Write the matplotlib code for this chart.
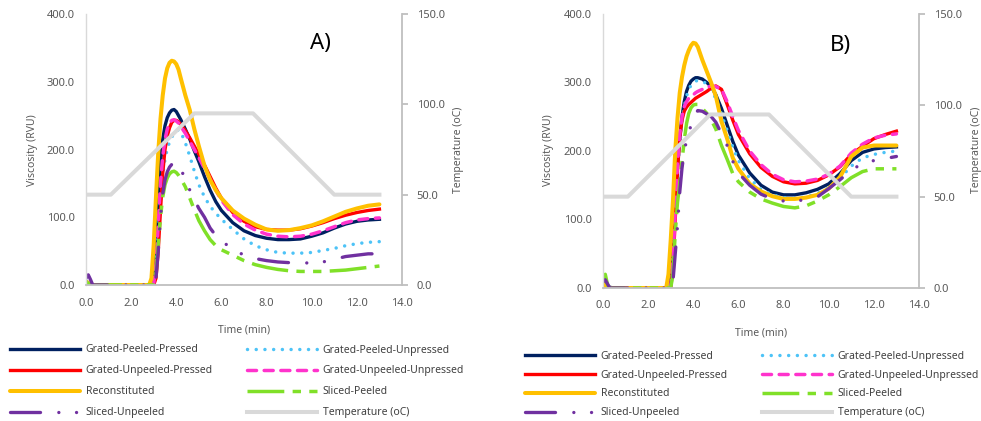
import matplotlib
matplotlib.use("Agg")
import matplotlib.pyplot as plt

plt.rcParams['font.family'] = ['Noto Sans', 'DejaVu Sans']

# ---------------- data ----------------
time_min = [0, 0.1, 0.2, 0.3, 0.5, 1.0, 1.5, 2.0, 2.5, 2.8, 2.9, 3.0, 3.1, 3.2, 3.3,
            3.4, 3.5, 3.6, 3.7, 3.8, 3.9, 4.0, 4.1, 4.2, 4.4, 4.6, 4.8, 5.0, 5.25, 5.5,
            5.75, 6.0, 6.5, 7.0, 7.5, 8.0, 8.5, 9.0, 9.5, 10.0, 10.5, 11.0, 11.5, 12.0, 12.5,
            13.0]

# Chart A
a_gpp = [6, 3, 1, 0, 0, 0, 0, 0, 0, 0, 0, 5, 50, 120, 180, 215, 235, 247, 254, 258,
         259, 256, 250, 244, 230, 215, 198, 182, 160, 140, 123, 110, 92, 80, 73, 69, 67, 67, 68, 72,
         77, 84, 90, 94, 96, 97]
a_gpu = [4, 2, 1, 0, 0, 0, 0, 0, 0, 0, 0, 2, 25, 75, 125, 162, 186, 201, 211, 218,
         224, 228, 229, 226, 210, 190, 168, 148, 130, 116, 106, 97, 82, 68, 58, 52, 48, 47, 47, 48,
         51, 54, 58, 61, 63, 64]
a_gup = [3, 1, 0, 0, 0, 0, 0, 0, 0, 0, 0, 0, 10, 50, 110, 165, 200, 220, 232, 240,
         243, 243, 241, 237, 228, 217, 205, 193, 177, 160, 143, 128, 107, 94, 86, 82, 81, 81, 83, 87,
         92, 98, 103, 107, 110, 112]
a_guu = [5, 2, 1, 0, 0, 0, 0, 0, 0, 0, 0, 2, 30, 90, 150, 190, 215, 230, 239, 243,
         244, 242, 239, 234, 224, 212, 200, 188, 172, 156, 140, 125, 104, 90, 81, 75, 72, 71, 72, 75,
         80, 86, 92, 96, 98, 99]
a_rec = [5, 3, 1, 0, 0, 0, 0, 0, 0, 0, 10, 60, 130, 195, 245, 280, 305, 320, 328, 331,
         330, 326, 318, 305, 280, 258, 230, 205, 176, 155, 140, 128, 110, 98, 89, 82, 80, 81, 84, 88,
         94, 101, 108, 113, 117, 119]
a_sp = [5, 2, 1, 0, 0, 0, 0, 0, 0, 0, 0, 0, 15, 60, 100, 130, 148, 158, 164, 167,
        168, 166, 162, 157, 145, 128, 111, 95, 80, 67, 58, 52, 44, 36, 30, 26, 23, 21, 20, 20,
        20, 21, 22, 24, 26, 28]
a_su = [10, 15, 8, 0, 0, 0, 0, 0, 0, 0, 0, 0, 10, 50, 100, 135, 155, 167, 174, 178,
        180, 181, 178, 172, 155, 140, 126, 113, 100, 84, 73, 65, 53, 44, 39, 36, 34, 33, 32, 33,
        34, 38, 42, 44, 46, 46]
a_temp_time = [0, 1.1, 4.8, 7.4, 11.0, 13.0]
a_temp = [50, 50, 95, 95, 50, 50]

# Chart B
b_gpp = [8, 4, 2, 1, 0, 0, 0, 0, 0, 0, 0, 10, 60, 120, 180, 216, 250, 272, 287, 296,
         302, 305, 307, 307, 305, 300, 294, 282, 262, 238, 214, 194, 168, 150, 140, 136, 136, 139, 144, 152,
         167, 186, 198, 203, 205, 206]
b_gpu = [6, 3, 1, 0, 0, 0, 0, 0, 0, 0, 0, 8, 50, 110, 170, 208, 242, 265, 280, 290,
         296, 300, 302, 303, 302, 298, 290, 276, 254, 230, 206, 186, 160, 144, 136, 132, 131, 133, 138, 146,
         160, 178, 190, 195, 198, 200]
b_gup = [5, 2, 1, 0, 0, 0, 0, 0, 0, 0, 0, 0, 30, 100, 170, 220, 245, 258, 264, 268,
         271, 274, 277, 279, 283, 287, 292, 295, 290, 268, 245, 224, 196, 176, 163, 155, 152, 153, 157, 165,
         177, 195, 207, 218, 224, 229]
b_guu = [6, 3, 1, 0, 0, 0, 0, 0, 0, 0, 0, 2, 40, 110, 180, 225, 250, 265, 272, 277,
         280, 282, 285, 287, 290, 293, 295, 294, 290, 272, 250, 230, 200, 180, 166, 158, 155, 156, 159, 166,
         178, 197, 210, 219, 223, 225]
b_rec = [6, 3, 1, 0, 0, 0, 0, 0, 0, 0, 20, 70, 128, 200, 248, 285, 308, 325, 338, 347,
         354, 358, 357, 352, 333, 316, 299, 280, 243, 218, 190, 174, 152, 141, 134, 130, 130, 132, 136, 145,
         162, 192, 205, 208, 208, 208]
b_sp = [10, 20, 5, 0, 0, 0, 0, 0, 0, 0, 0, 0, 20, 80, 125, 152, 185, 216, 240, 255,
        263, 267, 268, 268, 262, 255, 245, 232, 208, 188, 167, 155, 140, 130, 124, 119, 117, 120, 127, 136,
        148, 161, 170, 174, 174, 174]
b_su = [10, 12, 6, 0, 0, 0, 0, 0, 0, 0, 0, 0, 10, 50, 90, 140, 175, 200, 215, 226,
        238, 248, 255, 259, 258, 254, 250, 242, 225, 208, 185, 168, 150, 137, 130, 127, 127, 129, 133, 145,
        158, 172, 182, 186, 189, 192]
b_temp_time = [0, 1.1, 4.75, 7.35, 11.0, 13.0]
b_temp = [50, 50, 95, 95, 50, 50]

labels = ["Grated-Peeled-Pressed", "Grated-Peeled-Unpressed", "Grated-Unpeeled-Pressed",
          "Grated-Unpeeled-Unpressed", "Reconstituted", "Sliced-Peeled", "Sliced-Unpeeled"]
temp_label = "Temperature (oC)"
x_ticks = [0, 2, 4, 6, 8, 10, 12, 14]
visc_ticks = [0, 100, 200, 300, 400]
temp_ticks = [0, 50, 100, 150]

# ---------------- styles ----------------
styles = [
    dict(color="#002060", lw=2.4, ls="-"),
    dict(color="#4DC3F7", lw=2.5, ls=(0, (0.01, 2.5)), dash_capstyle="round"),
    dict(color="#FF0000", lw=2.4, ls="-"),
    dict(color="#FF33CC", lw=2.5, ls=(0, (2.6, 2.2)), dash_capstyle="round"),
    dict(color="#FFC000", lw=2.9, ls="-", solid_capstyle="round"),
    dict(color="#80E028", lw=2.5, ls=(0, (10.6, 2.4, 2.4, 2.4, 2.4, 2.4)), dash_capstyle="butt"),
    dict(color="#7030A0", lw=2.4, ls=(0, (9, 5.5, 0.01, 5.3, 0.01, 5.5)), dash_capstyle="round"),
]
temp_style = dict(color="#D9D9D9", lw=2.9, ls="-")

W, H = 981, 421
fig = plt.figure(figsize=(W / 100, H / 100), dpi=100)

tick_color = "#595959"
fs = 7.5
tfs = 8


def make_panel(rect, series, t_time, t_vals, tag, tag_xy, vlabel_x, tlabel_x, xlabel_y):
    ax = fig.add_axes(rect)
    ax2 = ax.twinx()
    handles = []
    for vals, lab, st in zip(series, labels, styles):
        h, = ax.plot(time_min, vals, label=lab, **st)
        handles.append(h)
    ht, = ax2.plot(t_time, t_vals, label=temp_label, **temp_style)
    handles.append(ht)
    ax.set_xlim(0, 14)
    ax.set_ylim(0, 400)
    ax2.set_ylim(0, 150)
    ax.set_xticks(x_ticks)
    ax.set_xticklabels([f"{v:.1f}" for v in x_ticks])
    ax.set_yticks(visc_ticks)
    ax.set_yticklabels([f"{v:.1f}" for v in visc_ticks])
    ax2.set_yticks(temp_ticks)
    ax2.set_yticklabels([f"{v:.1f}" for v in temp_ticks])
    ax.spines["top"].set_visible(False)
    ax2.spines["top"].set_visible(False)
    ax.spines["right"].set_visible(False)
    ax2.spines["left"].set_visible(False)
    ax2.spines["bottom"].set_visible(False)
    ax.spines["left"].set_color("#D9D9D9")
    ax.spines["left"].set_linewidth(1.0)
    ax.spines["bottom"].set_color("#BFBFBF")
    ax.spines["bottom"].set_linewidth(1.3)
    ax2.spines["right"].set_color("#BFBFBF")
    ax2.spines["right"].set_linewidth(1.3)
    ax.tick_params(axis="x", length=0, pad=9, labelsize=tfs, labelcolor=tick_color)
    ax.tick_params(axis="y", length=0, pad=8, labelsize=tfs, labelcolor=tick_color)
    ax2.tick_params(axis="y", length=4, width=1.3, color="#BFBFBF", pad=6.5, labelsize=tfs,
                    labelcolor=tick_color)
    ax.patch.set_visible(False)
    fig.text(*tag_xy, tag, fontsize=16, color="black", ha="center", va="center")
    fig.text(vlabel_x, 1 - 150 / H, "Viscosity (RVU)", rotation=90, fontsize=fs,
             color=tick_color, ha="center", va="center")
    fig.text(tlabel_x, 1 - 150 / H, temp_label, rotation=90, fontsize=fs,
             color=tick_color, ha="center", va="center")
    cx = rect[0] + rect[2] / 2
    fig.text(cx, xlabel_y, "Time (min)", fontsize=fs, color=tick_color,
             ha="center", va="center")
    return handles


hA = make_panel([86 / W, 1 - 285 / H, 316 / W, 271 / H],
                [a_gpp, a_gpu, a_gup, a_guu, a_rec, a_sp, a_su],
                a_temp_time, a_temp, "A)", (320 / W, 1 - 43 / H),
                32 / W, 458 / W, 1 - 330 / H)
hB = make_panel([603 / W, 1 - 288 / H, 316 / W, 274 / H],
                [b_gpp, b_gpu, b_gup, b_guu, b_rec, b_sp, b_su],
                b_temp_time, b_temp, "B)", (840 / W, 1 - 46 / H),
                548 / W, 977 / W, 1 - 333 / H)


def add_legend(handles, x_px, yc_px, spacing):
    col1 = [handles[0], handles[2], handles[4], handles[6]]
    col2 = [handles[1], handles[3], handles[5], handles[7]]
    for col, x in zip([col1, col2], [x_px, x_px + 237]):
        leg = fig.legend(handles=col, labels=[h.get_label() for h in col],
                         loc="center left", bbox_to_anchor=(x / W, 1 - yc_px / H),
                         frameon=False, fontsize=fs, handlelength=6.7, handletextpad=0.55,
                         borderpad=0, borderaxespad=0, labelspacing=spacing)
        for t in leg.get_texts():
            t.set_color("#404040")


add_legend(hA, 10, 381.5, 0.96)
add_legend(hB, 525, 384.5, 0.76)

fig.savefig("out.png", dpi=100)
